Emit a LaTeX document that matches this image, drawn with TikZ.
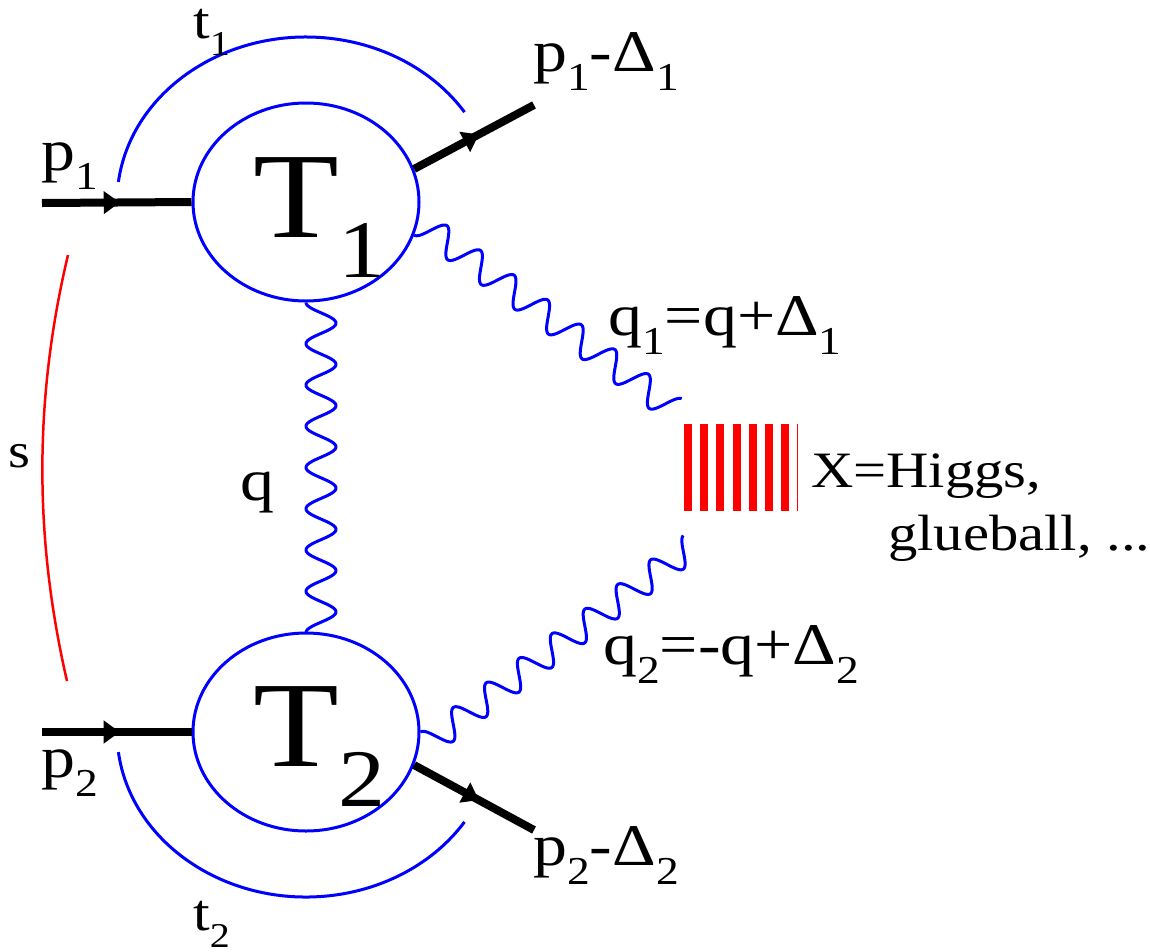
\documentclass[tikz,border=0pt]{standalone}
\usepackage{fontspec}
\setmainfont{Liberation Serif}
\usepackage{graphicx}
\usetikzlibrary{shapes.geometric, arrows.meta, decorations.markings}
\newcommand\sbs[1]{\raisebox{-0.33em}{\scalebox{0.67}{#1}}}
\newcommand\widetxt[1]{\scalebox{1.15}[1]{#1}}
\begin{document}
\begin{tikzpicture}[x=1pt, y=-1pt,
  blob/.style={ellipse, draw=blue, line width=3pt, minimum width=226pt, minimum height=198pt, inner sep=0pt},
  blueline/.style={draw=blue, line width=3pt},
  photon/.style={draw=blue, line width=3pt, line join=round},
  fermion/.style={line width=8pt, postaction={decorate},
    decoration={markings, mark=at position #1 with {\arrow{Triangle[length=16pt,width=22pt]}}}},
  lab/.style={inner sep=0pt, anchor=base west, font=\fontsize{59}{70}\selectfont},
  labm/.style={lab, font=\fontsize{52}{62}\selectfont},
  labx/.style={lab, font=\fontsize{51}{61}\selectfont},
  labT/.style={lab, font=\fontsize{122}{140}\selectfont}]
\useasboundingbox (0,0) rectangle (1150,951);

% blobs
\node[blob] (T1) at (306,202) {};
\node[blob] (T2) at (306,732) {};
\node[labT] (T1t) at (253,237) {\widetxt{T\sbs{1}}};
\node[labT] (T2t) at (253,766) {\widetxt{T\sbs{2}}};

% free ends
\coordinate (p1in) at (42,203);
\coordinate (p2in) at (42,732);
\coordinate (p1out) at (534,105);
\coordinate (p2out) at (534,830);

% fermion lines
\draw[fermion=0.52] (p1in) -- (T1.west);
\draw[fermion=0.52] (p2in) -- (T2.west);
\draw[fermion=0.54] (T1.17) -- (p1out);
\draw[fermion=0.54] (T2.-17) -- (p2out);

% t arcs
\draw[blueline] ([shift={(187:189 and 165)}]T1.center) arc[start angle=187, end angle=327, x radius=189, y radius=165];
\draw[blueline] ([shift={(173:189 and 165)}]T2.center) arc[start angle=173, end angle=33, x radius=189, y radius=165];

% s arc
\coordinate (s1) at (68,255);
\coordinate (s2) at (67,681);
\draw[red, line width=2.5pt] (s1) .. controls (34,398) and (34,538) .. (s2);

% photons
\draw[photon, shift={(T1.south)}] plot[domain=0:1, samples=400, variable=\t] ({15-15*cos(2880*\t)}, {330*\t});
\draw[photon, shift={(T1.-17)}, rotate=-36.4] plot[domain=0:1, samples=400, variable=\t] ({313*\t}, {13.5*cos(2700*\t)-13.5});
\draw[photon, shift={(T2.east)}, rotate=36.8] plot[domain=0:1, samples=400, variable=\t] ({328.6*\t}, {13.5-13.5*cos(2880*\t)});

% X bars
\node[minimum width=114pt, minimum height=87pt, inner sep=0pt, anchor=north west] (X) at (684,424) {};
\foreach \i in {0,...,6} {\fill[red] ({684+16.2*\i},424) rectangle ++(8,87);}
\draw[red, line width=1.2pt] (797.5,424) -- (797.5,511);

% labels
\node[labm] (t1) at (193,38) {\widetxt{t\sbs{1}}};
\node[lab] (p1) at (41,170) {\widetxt{p\sbs{1}}};
\node[lab] (p1d) at (533,71) {\widetxt{p\sbs{1}-Δ\sbs{1}}};
\node[lab] (q1) at (608,335) {\widetxt{q\sbs{1}=q+Δ\sbs{1}}};
\node[lab] (ql) at (240,500) {\widetxt{q}};
\node[lab, font=\fontsize{49}{58}\selectfont] (sl) at (8,467) {\widetxt{s}};
\node[labx] (xl) at (811,487) {\widetxt{X=Higgs,}};
\node[labx] (gl) at (888,550) {\widetxt{glueball, ...}};
\node[lab] (q2) at (603,664) {\widetxt{q\sbs{2}=-q+Δ\sbs{2}}};
\node[lab] (p2) at (41,777) {\widetxt{p\sbs{2}}};
\node[lab] (p2d) at (533,865) {\widetxt{p\sbs{2}-Δ\sbs{2}}};
\node[labm] (t2) at (193,930) {\widetxt{t\sbs{2}}};
\end{tikzpicture}
\end{document}
